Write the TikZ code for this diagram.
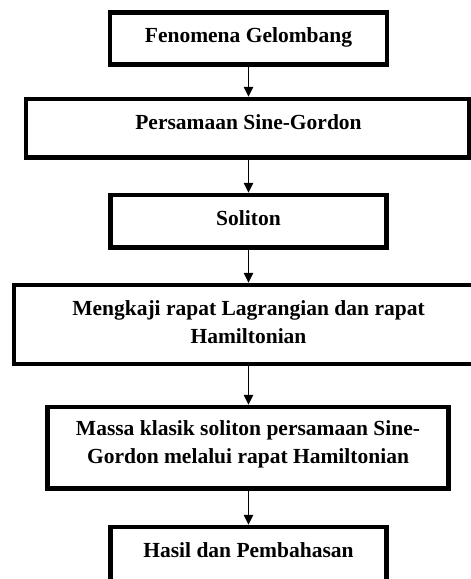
\documentclass[tikz,border=0pt]{standalone}
\usepackage{fontspec}
\setmainfont{Liberation Serif}
\usetikzlibrary{arrows.meta}
\tikzset{
  box/.style={draw=black, line width=4.5pt, fill=none, inner sep=0pt, outer sep=2.25pt},
  txt/.style={font=\bfseries\fontsize{21.5}{27.5}\selectfont, inner sep=0pt, anchor=base, align=center},
  arr/.style={draw=black, line width=1.3pt, -{Triangle[width=9.5pt,length=10pt]}}
}
\begin{document}
\begin{tikzpicture}[x=1pt,y=-1pt]
\useasboundingbox (0,0) rectangle (471,579);
\clip (0,0) rectangle (471,579);
\fill[white] (0,0) rectangle (471,579);
\coordinate (axis) at (248.5,0);
% boxes
\node[box, minimum width=277pt, minimum height=52pt]   (b1) at (248.5,38.5) {};
\node[box, minimum width=443pt, minimum height=58.5pt] (b2) at (247.5,128.25) {};
\node[box, minimum width=276pt, minimum height=52.5pt] (b3) at (248.5,221.25) {};
\node[box, minimum width=471pt, minimum height=79pt]   (b4) at (249.5,324.5) {};
\node[box, minimum width=401pt, minimum height=81.5pt] (b5) at (248,447.75) {};
\node[box, minimum width=276pt, minimum height=68pt]   (b6) at (248.5,561) {};
% texts (multi-line nodes: base anchor is on the last line)
\node[txt] (t1) at (248.5,42) {Fenomena Gelombang};
\node[txt] (t2) at (248.5,129) {Persamaan Sine-Gordon};
\node[txt] (t3) at (248.5,225) {Soliton};
\node[txt] (t4) at (248.5,343) {Mengkaji rapat Lagrangian dan rapat\\Hamiltonian};
\node[txt] (t5) at (248,463) {Massa klasik soliton persamaan Sine-\\Gordon melalui rapat Hamiltonian};
\node[txt] (t6) at (248.5,557) {Hasil dan Pembahasan};
% arrows
\draw[arr] (axis |- b1.south) -- (axis |- b2.north);
\draw[arr] (axis |- b2.south) -- (axis |- b3.north);
\draw[arr] (axis |- b3.south) -- (axis |- b4.north);
\draw[arr] (axis |- b4.south) -- (axis |- b5.north);
\draw[arr] (axis |- b5.south) -- (axis |- b6.north);
\end{tikzpicture}
\end{document}
